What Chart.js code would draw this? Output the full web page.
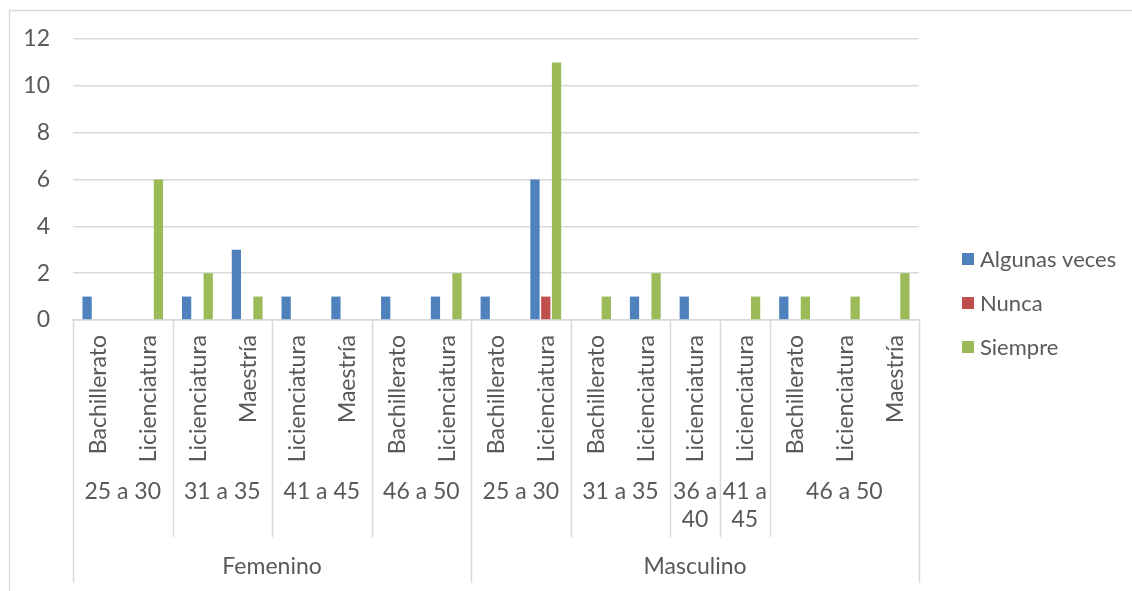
<!DOCTYPE html>
<html lang="es">
<head>
<meta charset="utf-8">
<title>Frecuencia por género, edad y escolaridad</title>
<script src="https://cdn.jsdelivr.net/npm/chart.js@4.4.1/dist/chart.umd.min.js"></script>
<style>
  html, body { margin: 0; padding: 0; background: #ffffff; }
  #wrap { position: relative; width: 1132px; height: 591px; }
</style>
</head>
<body>
<div id="wrap"><canvas id="grafica" width="1132" height="591"></canvas></div>
<script>
// Innermost category level: schooling
const escolaridad = [
  'Bachillerato', 'Licienciatura', 'Licienciatura', 'Maestría', 'Licienciatura', 'Maestría',
  'Bachillerato', 'Licienciatura',
  'Bachillerato', 'Licienciatura', 'Bachillerato', 'Licienciatura', 'Licienciatura',
  'Licienciatura', 'Bachillerato', 'Licienciatura', 'Maestría'
];
// Middle level: age ranges and how many schooling categories each spans
const edades = ['25 a 30', '31 a 35', '41 a 45', '46 a 50', '25 a 30', '31 a 35', '36 a 40', '41 a 45', '46 a 50'];
const edadesSpan = [2, 2, 2, 2, 2, 2, 1, 1, 3];
// Outer level: gender
const generos = ['Femenino', 'Masculino'];
const generosSpan = [8, 9];

// Series values (null = no responses)
const algunasVeces = [1, null, 1, 3, 1, 1, 1, 1, 1, 6, null, 1, 1, null, 1, null, null];
const nunca        = [null, null, null, null, null, null, null, null, null, 1, null, null, null, null, null, null, null];
const siempre      = [null, 6, 2, 1, null, null, null, 2, null, 11, 1, 2, null, 1, 1, 1, 2];

const serieNombres = ['Algunas veces', 'Nunca', 'Siempre'];
const serieColores = ['#4F81BD', '#C0504D', '#9BBB59'];

const yTicks = { min: 0, max: 12, step: 2 };

const FONT = 'Lato, "Noto Sans", sans-serif';
const FS = 23;
const TXT = '#595959';
const LINE = '#D9D9D9';

// Draws the outer frame, the multi-level category axis and the legend
const ejeMultinivel = {
  id: 'ejeMultinivel',
  beforeDraw(chart) {
    const ctx = chart.ctx;
    ctx.save();
    ctx.fillStyle = '#ffffff';
    ctx.fillRect(0, 0, chart.width, chart.height);
    ctx.strokeStyle = LINE;
    ctx.lineWidth = 1.3;
    ctx.beginPath();
    ctx.moveTo(9.5, chart.height);
    ctx.lineTo(9.5, 10.5);
    ctx.lineTo(chart.width, 10.5);
    ctx.stroke();
    ctx.restore();
  },
  afterDraw(chart) {
    const ctx = chart.ctx;
    const xs = chart.scales.x;
    const area = chart.chartArea;
    const n = escolaridad.length;
    const step = (xs.right - xs.left) / n;
    const edge = i => xs.getPixelForValue(i) - step / 2;
    const y0 = area.bottom;

    ctx.save();
    // separators
    ctx.strokeStyle = LINE;
    ctx.lineWidth = 1.5;
    const gBounds = new Set([0]);
    let acc = 0;
    generosSpan.forEach(s => { acc += s; gBounds.add(acc); });
    const eBounds = new Set([0]);
    acc = 0;
    edadesSpan.forEach(s => { acc += s; eBounds.add(acc); });
    eBounds.forEach(b => {
      const x = Math.round(b === n ? xs.right : edge(b)) + 0.5;
      const yEnd = gBounds.has(b) ? 583 : 537;
      ctx.beginPath();
      ctx.moveTo(x, y0);
      ctx.lineTo(x, yEnd);
      ctx.stroke();
    });

    ctx.fillStyle = TXT;
    ctx.font = FS + 'px ' + FONT;

    // level 1: rotated schooling labels
    escolaridad.forEach((lab, i) => {
      const x = xs.getPixelForValue(i);
      ctx.save();
      ctx.translate(x, 335);
      ctx.rotate(-Math.PI / 2);
      ctx.textAlign = 'right';
      ctx.textBaseline = 'middle';
      ctx.fillText(lab, 0, 1);
      ctx.restore();
    });

    // level 2: age ranges (wrapped when the cell is narrow)
    ctx.textAlign = 'center';
    ctx.textBaseline = 'middle';
    let start = 0;
    edades.forEach((lab, k) => {
      const span = edadesSpan[k];
      const x1 = edge(start);
      const x2 = start + span === n ? xs.right : edge(start + span);
      const cx = (x1 + x2) / 2;
      const maxW = (x2 - x1) - 2;
      const words = lab.split(' ');
      const lines = [];
      let cur = '';
      words.forEach(w => {
        const t = cur ? cur + ' ' + w : w;
        if (ctx.measureText(t).width > maxW && cur) { lines.push(cur); cur = w; }
        else cur = t;
      });
      lines.push(cur);
      lines.forEach((ln, j) => ctx.fillText(ln, cx, 492 + j * 28));
      start += span;
    });

    // level 3: gender
    start = 0;
    generos.forEach((lab, k) => {
      const span = generosSpan[k];
      const x1 = edge(start);
      const x2 = start + span === n ? xs.right : edge(start + span);
      ctx.fillText(lab, (x1 + x2) / 2, 567);
      start += span;
    });

    // legend
    ctx.textAlign = 'left';
    ctx.font = (FS - 1) + 'px ' + FONT;
    chart.data.datasets.forEach((ds, i) => {
      const cy = 259 + i * 44;
      ctx.fillStyle = ds.backgroundColor;
      ctx.fillRect(962, cy - 6, 12, 12);
      ctx.fillStyle = TXT;
      ctx.fillText(ds.label, 980, cy + 1);
    });
    ctx.restore();
  }
};

new Chart(document.getElementById('grafica'), {
  type: 'bar',
  data: {
    labels: escolaridad,
    datasets: [algunasVeces, nunca, siempre].map((d, i) => ({
      label: serieNombres[i],
      data: d,
      backgroundColor: serieColores[i],
      borderWidth: 0,
      categoryPercentage: 0.65,
      barPercentage: 0.86
    }))
  },
  options: {
    responsive: false,
    animation: false,
    devicePixelRatio: 1,
    layout: { padding: { left: 0, top: 39, right: 213, bottom: 0 } },
    plugins: {
      legend: { display: false },
      tooltip: { enabled: false }
    },
    scales: {
      x: {
        grid: { display: false, drawTicks: false },
        border: { display: true, color: LINE, width: 1.5 },
        ticks: { display: false },
        afterFit(scale) { scale.height = 271; }
      },
      y: {
        min: yTicks.min,
        max: yTicks.max,
        ticks: {
          stepSize: yTicks.step,
          padding: 23,
          color: TXT,
          font: { family: FONT, size: FS }
        },
        grid: { color: LINE, lineWidth: 1.5, drawTicks: false },
        border: { display: false },
        afterFit(scale) { scale.width = 73; }
      }
    }
  },
  plugins: [ejeMultinivel]
});
</script>
</body>
</html>
